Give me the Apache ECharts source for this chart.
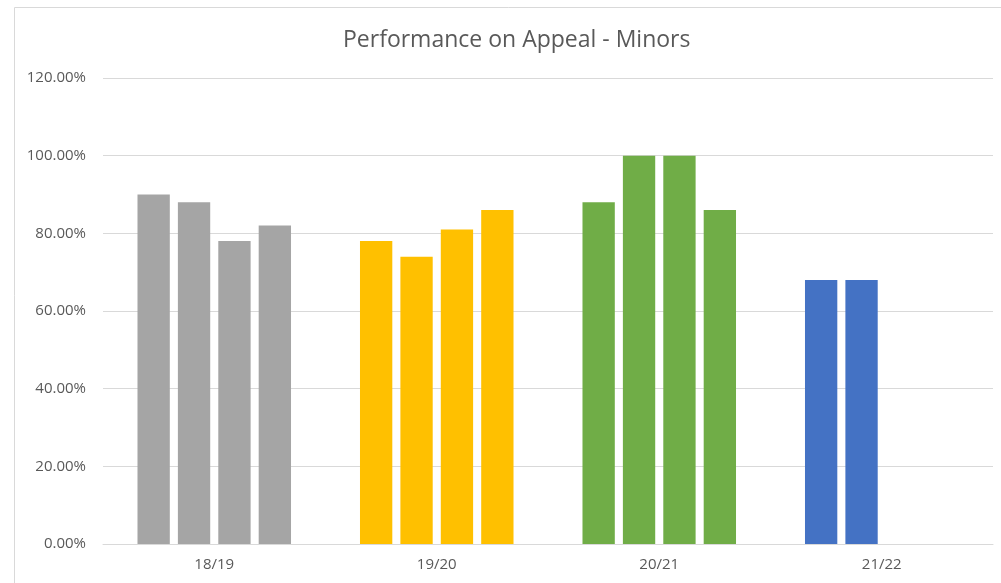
<!DOCTYPE html>
<html>
<head>
<meta charset="utf-8">
<title>Performance on Appeal - Minors</title>
<script src="https://cdn.jsdelivr.net/npm/echarts@6/dist/echarts.min.js"></script>
<style>
    html, body { margin: 0; padding: 0; background: #fff; }
    #container_appeal { width: 1001px; height: 583px; }
</style>
</head>
<body>
<div id="container_appeal"></div>
<script>
// =================================================================================
// Chart data
var years = ['18/19', '19/20', '20/21', '21/22'];
var yearColors = ['#a5a5a5', '#ffc000', '#70ad47', '#4472c4'];
var quarterNames = ['Q1', 'Q2', 'Q3', 'Q4'];
// one array per quarter, values per year (fraction)
var q1 = [0.90, 0.78, 0.88, 0.68];
var q2 = [0.88, 0.74, 1.00, 0.68];
var q3 = [0.78, 0.81, 1.00, null];
var q4 = [0.82, 0.86, 0.86, null];
var yTicks = [0, 0.2, 0.4, 0.6, 0.8, 1.0, 1.2];

var appeal_charts = echarts.init(document.getElementById('container_appeal'));

var quarters = [q1, q2, q3, q4];

function buildSeries() {
    var res = [];
    for (var i = 0; i < quarters.length; i++) {
        var data = [];
        for (var j = 0; j < years.length; j++) {
            var v = quarters[i][j];
            data.push({
                value: v === null ? '-' : v,
                itemStyle: { color: yearColors[j] }
            });
        }
        res.push({
            name: quarterNames[i],
            type: 'bar',
            data: data,
            barGap: '25%',
            barCategoryGap: '31%'
        });
    }
    return res;
}

var option_appeal = {
    animation: false,
    textStyle: { fontFamily: 'Open Sans, Liberation Sans, sans-serif' },
    title: {
        text: 'Performance on Appeal - Minors',
        left: 338,
        top: 24,
        textStyle: {
            color: '#595959',
            fontSize: 23,
            fontWeight: 'normal',
            fontFamily: 'Open Sans, Liberation Sans, sans-serif'
        }
    },
    graphic: [{
        type: 'rect',
        shape: { x: 14.5, y: 7.5, width: 1000, height: 600 },
        style: { fill: 'none', stroke: '#d9d9d9', lineWidth: 1 },
        silent: true
    }],
    grid: {
        left: 103,
        right: 8,
        top: 78,
        bottom: 39
    },
    xAxis: {
        type: 'category',
        data: years,
        axisLine: { lineStyle: { color: '#d9d9d9', width: 1 } },
        axisTick: { show: false },
        axisLabel: { color: '#595959', fontSize: 15, margin: 13 }
    },
    yAxis: {
        type: 'value',
        min: yTicks[0],
        max: yTicks[yTicks.length - 1],
        interval: 0.2,
        axisLine: { show: false },
        axisTick: { show: false },
        splitLine: { lineStyle: { color: '#d9d9d9', width: 1 } },
        axisLabel: {
            color: '#595959',
            fontSize: 15,
            margin: 17,
            formatter: function (v) {
                return (v * 100).toFixed(2) + '%';
            }
        }
    },
    series: buildSeries()
};

appeal_charts.setOption(option_appeal);
</script>
</body>
</html>
